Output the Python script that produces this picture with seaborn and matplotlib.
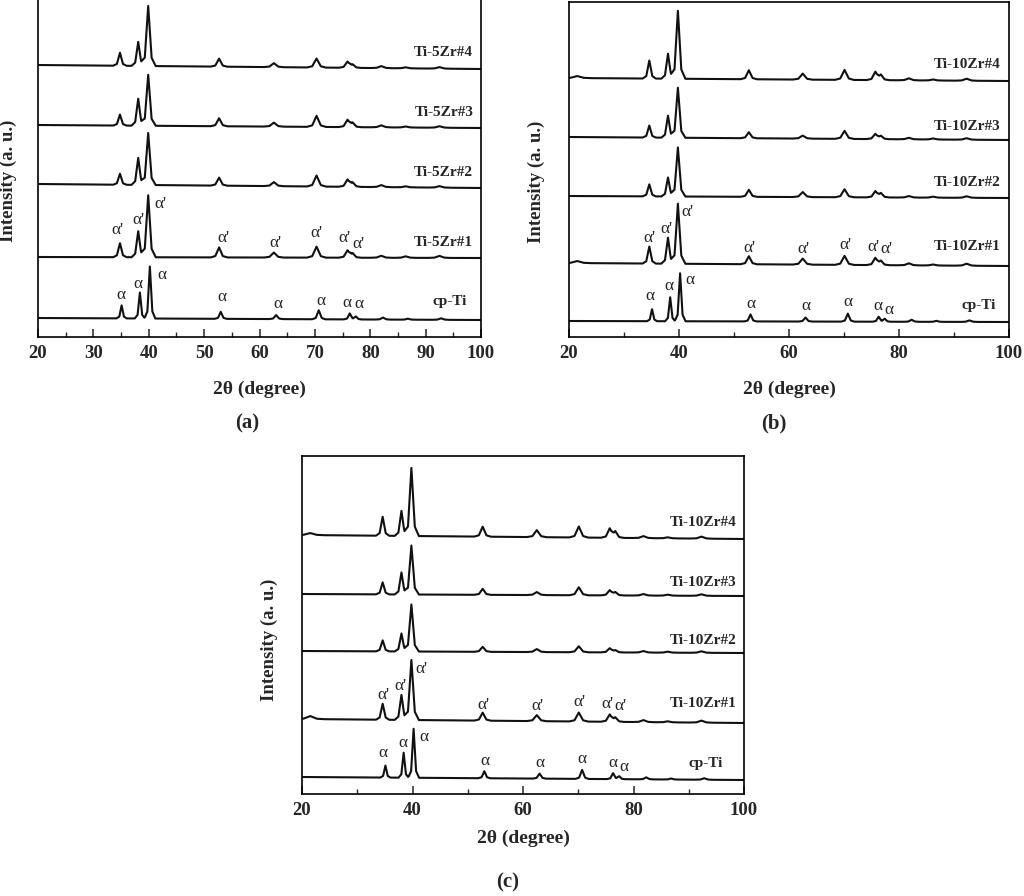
import numpy as np
import pandas as pd
import seaborn as sns
import matplotlib.pyplot as plt
from matplotlib.ticker import MultipleLocator

# peak positions (2theta) and half widths of the peak tips
CP_POS = [35.1, 38.4, 40.2, 53.0, 63.0, 70.7, 76.3, 77.4, 82.3, 86.8, 92.8]
CP_HW = [0.42, 0.42, 0.45, 0.5, 0.55, 0.55, 0.5, 0.5, 0.6, 0.6, 0.7]
ZR5_POS = [34.8, 38.1, 39.9, 52.7, 62.6, 70.3, 75.9, 76.8, 82.0, 86.4, 92.5]
ZR10_POS = [21.5, 34.6, 38.0, 39.8, 52.7, 62.5, 70.1, 75.7, 76.7, 81.8, 86.2, 92.3]
ZR5_HW = [0.55, 0.55, 0.62, 0.68, 0.8, 0.78, 0.72, 0.72, 0.85, 0.85, 0.9]
ZR10_HW = [1.2, 0.55, 0.55, 0.62, 0.68, 0.8, 0.78, 0.72, 0.72, 0.85, 0.85, 0.9]

# (a) Ti-5Zr
names_a = ["cp-Ti", "Ti-5Zr#1", "Ti-5Zr#2", "Ti-5Zr#3", "Ti-5Zr#4"]
heights_a = [
    [13, 26, 52, 7, 4, 9, 6, 3, 2, 1, 1.5],
    [14, 26, 62, 10, 5, 11, 7, 4, 2, 1.5, 2],
    [11, 27, 52, 8, 4, 11, 7, 4, 2, 1, 1.5],
    [11, 27, 51, 8, 4, 11, 7, 4, 2, 1, 1.5],
    [13, 24, 60, 8, 4, 9, 6, 3, 2, 1, 1.5],
]
base_left_a = [19, 80, 153, 212, 272]
base_right_a = [17, 79, 149, 209, 268]

# (b) Ti-10Zr
names_b = ["cp-Ti", "Ti-10Zr#1", "Ti-10Zr#2", "Ti-10Zr#3", "Ti-10Zr#4"]
heights_b = [
    [12, 24, 48, 7, 4, 8, 5, 3, 2, 1, 1.5],
    [2, 17, 26, 60, 8, 6, 9, 7, 4, 2, 1, 2],
    [0, 12, 19, 49, 7, 5, 8, 6, 4, 1.5, 1, 1.5],
    [0, 12, 22, 50, 6, 3, 8, 5, 3, 1.5, 1, 1.5],
    [2, 18, 25, 68, 9, 6, 10, 8, 5, 2, 1, 2],
]
base_left_b = [16, 74, 141, 200, 259]
base_right_b = [15, 71, 139, 197, 256]

# (c) Ti-10Zr
names_c = ["cp-Ti", "Ti-10Zr#1", "Ti-10Zr#2", "Ti-10Zr#3", "Ti-10Zr#4"]
heights_c = [
    [12, 25, 49, 7, 5, 9, 6, 3, 2, 1, 1.5],
    [3, 16, 25, 60, 8, 6, 9, 7, 4, 2, 1, 2],
    [0, 11, 18, 47, 5, 3, 6, 4, 2, 1.5, 1, 1.5],
    [0, 12, 22, 49, 6, 3, 8, 5, 3, 1.5, 1, 1.5],
    [2, 19, 25, 68, 10, 7, 11, 9, 6, 2, 1, 2],
]
base_left_c = [17, 75, 143, 200, 259]
base_right_c = [14, 71, 141, 198, 255]

# phase marks: (2theta, height, text)
marks_a = [(34.4, 107, "α'"), (38.1, 117, "α'"), (42.2, 133, "α'"), (53.4, 99, "α'"),
           (62.8, 94, "α'"), (70.2, 104, "α'"), (75.4, 99, "α'"), (77.8, 93, "α'"),
           (35.0, 42, "α"), (38.1, 53, "α"), (42.4, 62, "α"), (53.2, 40, "α"),
           (63.4, 33, "α"), (71.1, 36, "α"), (75.8, 34, "α"), (78.0, 33, "α")]
marks_b = [(34.7, 99, "α'"), (37.8, 108, "α'"), (41.6, 125, "α'"), (52.8, 89, "α'"),
           (62.7, 88, "α'"), (70.2, 92, "α'"), (75.3, 90, "α'"), (77.7, 88, "α'"),
           (34.7, 41, "α"), (38.2, 51, "α"), (42.0, 57, "α"), (53.1, 33, "α"),
           (63.1, 31, "α"), (70.7, 35, "α"), (76.2, 31, "α"), (78.2, 27, "α")]

label_y_a = [35, 95, 165, 224, 284]
label_y_b = [31, 91, 154, 211, 272]

FOOT = 0.25     # share of a peak carried by its broad foot
FOOT_W = 2.2    # foot width relative to the tip width


def trace(pos, hw, heights, left, right):
    xs = [20.0, 100.0]
    for p, w in zip(pos, hw):
        xs += [p - FOOT_W * w, p - w, p, p + w, p + FOOT_W * w]
    xs = np.array(sorted(xs))
    ys = np.interp(xs, [20, 100], [left, right])
    for p, w, h in zip(pos, hw, heights):
        ys = ys + np.interp(xs, [p - w, p, p + w], [0, (1 - FOOT) * h, 0])
        ys = ys + np.interp(xs, [p - FOOT_W * w, p, p + FOOT_W * w], [0, FOOT * h, 0])
    return xs, ys


def panel_df(names, heights, lefts, rights, zr_pos, zr_hw):
    rows = []
    for i, name in enumerate(names):
        if i == 0:
            xs, ys = trace(CP_POS, CP_HW, heights[i], lefts[i], rights[i])
        else:
            xs, ys = trace(zr_pos, zr_hw, heights[i], lefts[i], rights[i])
        rows.append(pd.DataFrame({"x": xs, "y": ys, "sample": name}))
    return pd.concat(rows, ignore_index=True)


sns.set_style("ticks")
plt.rcParams["font.family"] = ["Liberation Serif", "DejaVu Serif"]
plt.rcParams["font.weight"] = "bold"
plt.rcParams["axes.linewidth"] = 1.2

fig = plt.figure(figsize=(10.24, 8.96), dpi=100)
W, H = 1024, 896

# pixel boxes: left, top, right, bottom
boxes = {"a": (38, -5, 481, 337), "b": (569, 2, 1009, 337), "c": (302, 456, 744, 794)}
panels = {
    "a": (panel_df(names_a, heights_a, base_left_a, base_right_a, ZR5_POS, ZR5_HW),
          names_a, label_y_a, marks_a, 10, 5, (-0.048, 0.456), -0.129, [97.4] + [98.6] * 4),
    "b": (panel_df(names_b, heights_b, base_left_b, base_right_b, ZR10_POS, ZR10_HW),
          names_b, label_y_b, marks_b, 20, 10, (-0.055, 0.463), -0.131, [97.6] + [98.5] * 4),
    "c": (panel_df(names_c, heights_c, base_left_c, base_right_c, ZR10_POS, ZR10_HW),
          names_c, label_y_b, marks_b, 20, 10, (-0.054, 0.456), -0.107, [96.2] + [98.7] * 4),
}
letters = {"a": (247, 423), "b": (774, 423), "c": (508, 882)}

for key, (df, names, label_y, marks, major, minor, ylab, xlab_y, label_x) in panels.items():
    l, t, r, b = boxes[key]
    ax = fig.add_axes([l / W, 1 - b / H, (r - l) / W, (b - t) / H])
    sns.lineplot(data=df, x="x", y="y", units="sample", estimator=None,
                 color="#111111", lw=1.5, ax=ax, legend=False)
    ax.set_xlim(20, 100)
    ax.set_ylim(0, b - t)
    ax.set_yticks([])
    ax.xaxis.set_major_locator(MultipleLocator(major))
    ax.xaxis.set_minor_locator(MultipleLocator(minor))
    ax.tick_params(axis="x", which="major", direction="in", length=6, width=1.1,
                   labelsize=13.5, pad=6)
    ax.tick_params(axis="x", which="minor", direction="in", length=3.5, width=1.0)
    ax.tick_params(top=False, right=False, left=False)
    for s in ax.spines.values():
        s.set_visible(True)
        s.set_color("black")
    ax.set_xlabel("2θ (degree)", fontsize=14, fontweight="bold")
    ax.set_ylabel("Intensity (a. u.)", fontsize=13.5, fontweight="bold")
    ax.xaxis.set_label_coords(0.5, xlab_y)
    ax.yaxis.set_label_coords(*ylab)
    for name, ly, lx in zip(names, label_y, label_x):
        ax.text(lx, ly, name, ha="right", va="center", fontsize=11, fontweight="bold")
    for mx, my, mt in marks:
        ax.text(mx, my, mt, ha="center", va="center", fontsize=12.5, fontweight="normal")
    px, py = letters[key]
    fig.text(px / W, 1 - py / H, "(" + key + ")", ha="center", va="center",
             fontsize=15, fontweight="bold")

fig.savefig("out.png", dpi=100)
